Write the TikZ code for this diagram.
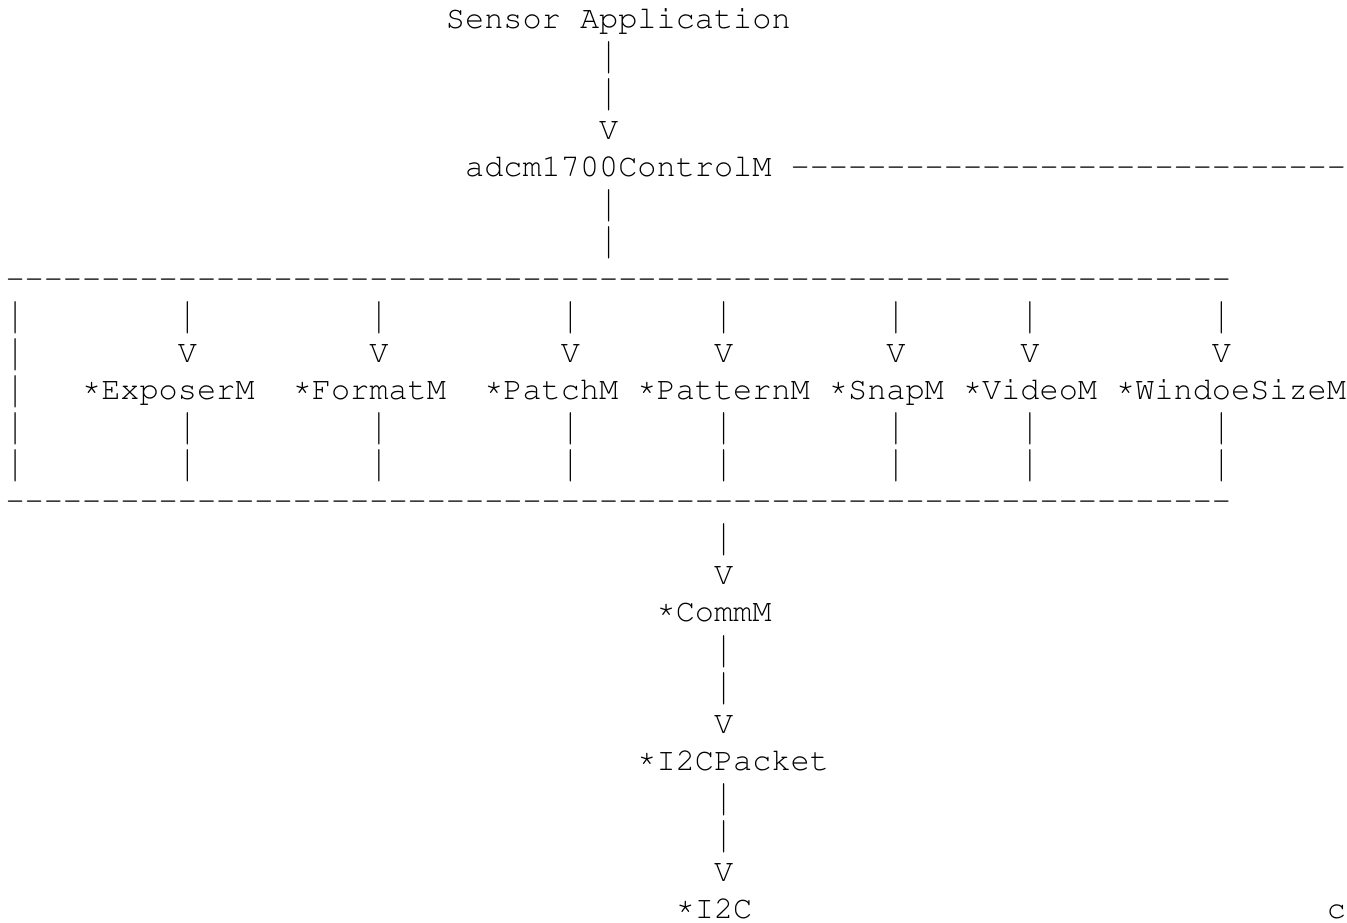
\documentclass[tikz,border=0pt]{standalone}
\usepackage{graphicx}
\usepackage[T1,TU]{fontenc}
\newcommand\asciifont{\fontencoding{T1}\fontfamily{pcr}\fontseries{m}\fontshape{n}\fontsize{31.92pt}{37.1pt}\selectfont}
\newcommand\vbarch{\raisebox{-3pt}{\scalebox{1}[1.4]{|}}}
\newcommand\astch{\raisebox{3.5pt}{*}}
\tikzset{txt/.style={anchor=base west, inner sep=0pt, outer sep=0pt, font=\asciifont, text=black}}
\newcommand\Txt[4]{\node[txt] (#1) at ({(5.5+#2*19.15)*1pt},{-(28.3+#3*37.1)*1pt}) {#4};}
\begin{document}
\begin{tikzpicture}
\fill[white] (0,0) rectangle (1347pt,-923pt);
\useasboundingbox (0,0) rectangle (1347pt,-923pt);
% top chain
\Txt{app}{23}{0}{Sensor Application}
\Txt{p1}{31}{1}{\vbarch}
\Txt{p2}{31}{2}{\vbarch}
\Txt{v3}{31}{3}{V}
\Txt{ctrl}{24}{4}{adcm1700ControlM}
\foreach \c in {41,...,69} {\Txt{dr\c}{\c}{4}{-}}
\Txt{p5}{31}{5}{\vbarch}
\Txt{p6}{31}{6}{\vbarch}
% box top
\foreach \c in {0,...,63} {\Txt{dt\c}{\c}{7}{-}}
\foreach \c in {0,9,19,29,37,46,53,63} {\Txt{pa\c}{\c}{8}{\vbarch}}
\Txt{pb0}{0}{9}{\vbarch}
\foreach \c in {9,19,29,37,46,53,63} {\Txt{vb\c}{\c}{9}{V}}
\Txt{pc0}{0}{10}{\vbarch}
\Txt{expo}{4}{10}{\astch ExposerM}
\Txt{form}{15}{10}{\astch FormatM}
\Txt{patc}{25}{10}{\astch PatchM}
\Txt{patt}{33}{10}{\astch PatternM}
\Txt{snap}{43}{10}{\astch SnapM}
\Txt{vide}{50}{10}{\astch VideoM}
\Txt{wind}{58}{10}{\astch WindoeSizeM}
\foreach \c in {0,9,19,29,37,46,53,63} {\Txt{pd\c}{\c}{11}{\vbarch}}
\foreach \c in {0,9,19,29,37,46,53,63} {\Txt{pe\c}{\c}{12}{\vbarch}}
% box bottom
\foreach \c in {0,...,63} {\Txt{db\c}{\c}{13}{-}}
% bottom chain
\Txt{p14}{37}{14}{\vbarch}
\Txt{v15}{37}{15}{V}
\Txt{comm}{34}{16}{\astch CommM}
\Txt{p17}{37}{17}{\vbarch}
\Txt{p18}{37}{18}{\vbarch}
\Txt{v19}{37}{19}{V}
\Txt{pack}{33}{20}{\astch I2CPacket}
\Txt{p21}{37}{21}{\vbarch}
\Txt{p22}{37}{22}{\vbarch}
\Txt{v23}{37}{23}{V}
\Txt{itc}{35}{24}{\astch I2C}
\Txt{cc}{69}{24}{c}
\end{tikzpicture}
\end{document}
